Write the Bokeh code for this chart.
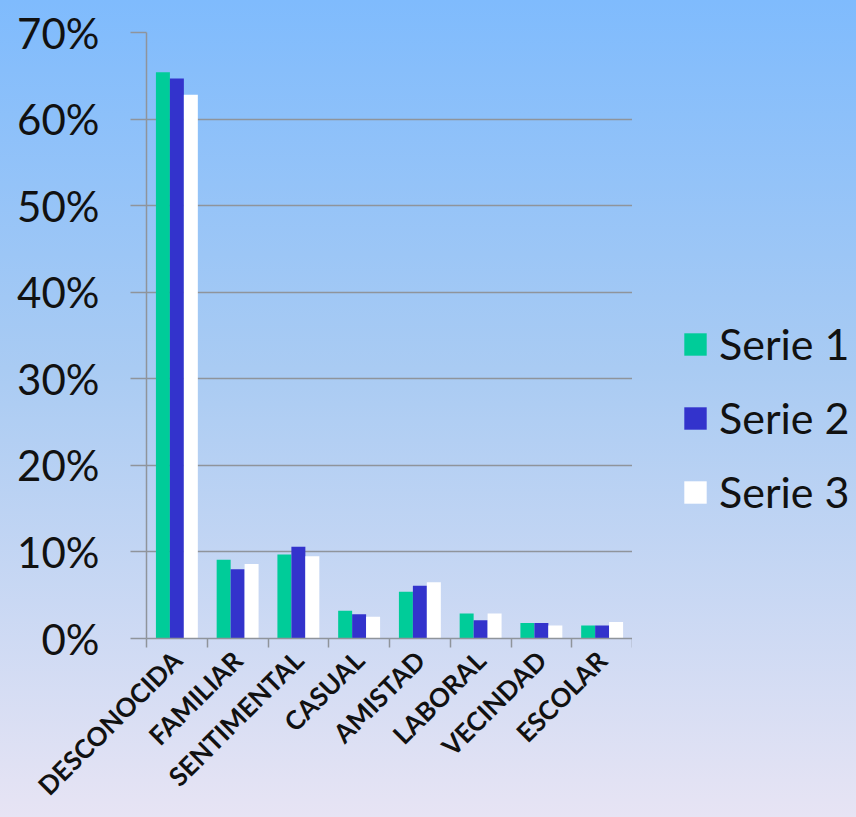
from math import pi
from bokeh.plotting import figure
from bokeh.layouts import row
from bokeh.models import (FactorRange, Range1d, LinearAxis, CategoricalAxis, FixedTicker,
                          PrintfTickFormatter, Legend, LegendItem, ColumnDataSource)
from bokeh.transform import dodge
from bokeh.embed import file_html
from bokeh.resources import INLINE

categories = ["DESCONOCIDA", "FAMILIAR", "SENTIMENTAL", "CASUAL", "AMISTAD", "LABORAL", "VECINDAD", "ESCOLAR"]
serie1 = [65.4, 9.1, 9.7, 3.2, 5.4, 2.9, 1.8, 1.5]
serie2 = [64.7, 8.0, 10.6, 2.8, 6.1, 2.1, 1.8, 1.5]
serie3 = [62.8, 8.6, 9.5, 2.5, 6.5, 2.9, 1.5, 1.9]
series_names = ["Serie 1", "Serie 2", "Serie 3"]
colors = ["#00CC99", "#3333CC", "#FFFFFF"]
y_ticks = [0, 10, 20, 30, 40, 50, 60, 70]

source = ColumnDataSource(dict(cat=categories, s1=serie1, s2=serie2, s3=serie3))

p = figure(width=632, height=817, x_range=FactorRange(*categories), y_range=Range1d(0, 70),
           output_backend="svg", toolbar_location=None, x_axis_location=None,
           min_border_left=146, min_border_top=32, min_border_right=0, min_border_bottom=179)
p.border_fill_color = None
p.background_fill_color = None
p.outline_line_color = None

grid_col = "#8f949b"

# y axis
p.yaxis.ticker = FixedTicker(ticks=y_ticks)
p.yaxis.formatter = PrintfTickFormatter(format="%d%%")
p.yaxis.major_label_text_font = "Lato"
p.yaxis.major_label_text_font_size = "42px"
p.yaxis.major_label_text_color = "#111111"
p.yaxis.major_tick_out = 16
p.yaxis.major_tick_in = 0
p.yaxis.minor_tick_line_color = None
p.yaxis.major_label_standoff = 31
p.yaxis.axis_line_color = grid_col
p.yaxis.axis_line_width = 1.5
p.yaxis.major_tick_line_color = grid_col
p.yaxis.major_tick_line_width = 1.5

p.ygrid.grid_line_color = grid_col
p.ygrid.grid_line_width = 1.5
p.xgrid.grid_line_color = None

# x axis: tick marks at category boundaries (synthetic coordinates of the factor range)
boundaries = list(range(len(categories) + 1))
tick_axis = LinearAxis(ticker=FixedTicker(ticks=boundaries),
                       major_tick_out=9, major_tick_in=0, major_label_text_font_size="0px",
                       major_label_standoff=0, minor_tick_line_color=None,
                       axis_line_color=grid_col, axis_line_width=1.5,
                       major_tick_line_color=grid_col, major_tick_line_width=1.5,
                       major_label_overrides={i: "" for i in boundaries})
p.add_layout(tick_axis, "below")

label_axis = CategoricalAxis(axis_line_color=None, major_tick_line_color=None,
                             major_tick_out=0, major_tick_in=0,
                             major_label_orientation=pi / 4,
                             major_label_text_font="Lato", major_label_text_font_style="bold",
                             major_label_text_font_size="26px", major_label_text_color="#111111",
                             major_label_standoff=8)
p.add_layout(label_axis, "below")

w = 0.23
r1 = p.vbar(x=dodge("cat", -w, range=p.x_range), top="s1", width=w, source=source,
            fill_color=colors[0], line_color=None)
r2 = p.vbar(x=dodge("cat", 0, range=p.x_range), top="s2", width=w, source=source,
            fill_color=colors[1], line_color=None)
r3 = p.vbar(x=dodge("cat", w, range=p.x_range), top="s3", width=w, source=source,
            fill_color=colors[2], line_color=None)

# legend panel to the right of the chart (zero-size swatch renderers carry the legend colours)
pl = figure(width=224, height=817, x_range=Range1d(0, 1), y_range=Range1d(0, 1),
            output_backend="svg", toolbar_location=None, x_axis_location=None, y_axis_location=None,
            min_border=0)
pl.border_fill_color = None
pl.background_fill_color = None
pl.outline_line_color = None
pl.grid.visible = False
swatches = [pl.vbar(x=[0], top=[0], bottom=[0], width=0, fill_color=c, line_color=None) for c in colors]

legend = Legend(items=[LegendItem(label=name, renderers=[r]) for name, r in zip(series_names, swatches)],
                location=(49, 121), orientation="vertical",
                glyph_width=28, glyph_height=28, label_standoff=10, spacing=23,
                padding=0, margin=0, border_line_color=None, background_fill_alpha=0,
                label_text_font="Lato", label_text_font_size="43px", label_text_color="#111111")
pl.add_layout(legend)

layout = row(p, pl, spacing=0)

html = file_html(layout, INLINE)
html = html.replace("</head>",
                    "<style>html{min-height:100%;background:linear-gradient(to bottom,#7fbbfd 0%,#a9cbf3 45%,#e7e4f4 100%);}</style></head>", 1)
open("out.html", "w").write(html)
